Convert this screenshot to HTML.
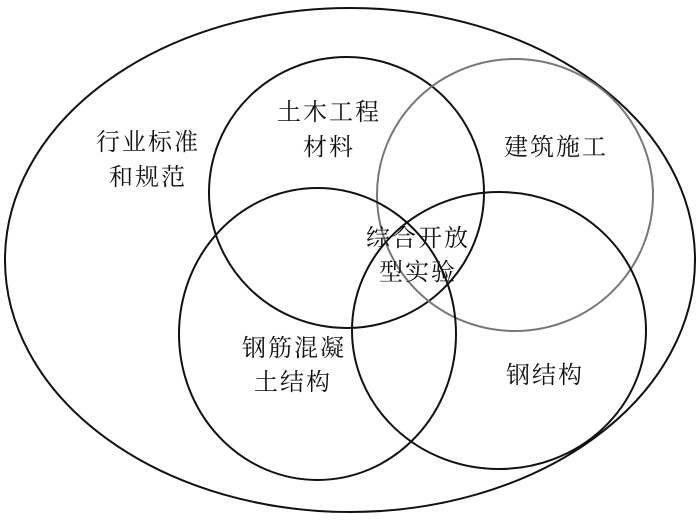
<!DOCTYPE html>
<html><head><meta charset="utf-8"><style>
body{margin:0;background:#fff;}
svg text{font-family:"Liberation Serif","Noto Serif CJK SC",serif;font-size:24px;fill:#111;text-anchor:middle;letter-spacing:2px;}
</style></head><body>
<svg width="700" height="520" viewBox="0 0 700 520" xmlns="http://www.w3.org/2000/svg">
<rect width="700" height="520" fill="#fff"/>
<g fill="none" stroke-width="2">
<ellipse cx="350" cy="260" rx="345" ry="252" stroke="#111"/>
<ellipse cx="346.5" cy="192.5" rx="137.5" ry="135.5" stroke="#111"/>
<ellipse cx="515" cy="195" rx="138" ry="136" stroke="#777"/>
<ellipse cx="317.5" cy="334" rx="138.5" ry="146" stroke="#111"/>
<ellipse cx="499" cy="330.5" rx="147" ry="138.5" stroke="#111"/>
</g>
<text x="148" y="150">行业标准</text>
<text x="148" y="185">和规范</text>
<text x="329" y="120">土木工程</text>
<text x="329" y="155">材料</text>
<text x="556" y="155">建筑施工</text>
<text x="418" y="246">综合开放</text>
<text x="418" y="280">型实验</text>
<text x="294" y="356">钢筋混凝</text>
<text x="293" y="390">土结构</text>
<text x="545" y="383">钢结构</text>
</svg>
</body></html>
